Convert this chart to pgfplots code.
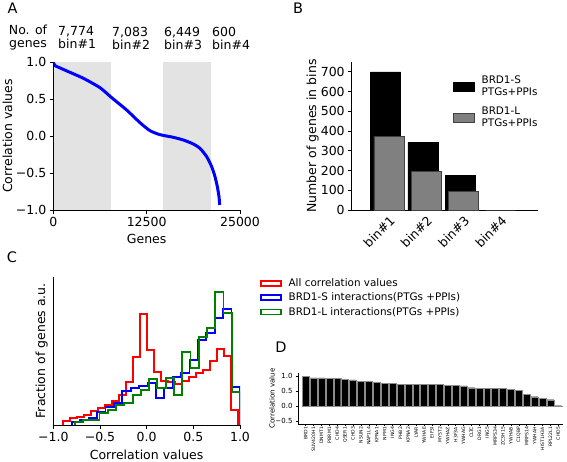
\documentclass[border=0pt]{standalone}
\usepackage{pgfplots}
\pgfplotsset{compat=1.18}
\usepackage{fontspec}
\setmainfont{DejaVu Sans}
\newcommand{\lab}{\fontsize{12.5}{13}\selectfont}
\newcommand{\leg}{\fontsize{10.4}{12}\selectfont}
\newcommand{\pan}{\fontsize{14.5}{16}\selectfont}
\pgfplotsset{
  mpl/.style={
    scale only axis,
    axis x line*=bottom, axis y line*=left,
    axis line style={-, line width=0.9pt, black},
    tick align=outside,
    major tick length=3.5pt,
    tick style={black, line width=0.8pt},
    scaled ticks=false,
    /pgf/number format/assume math mode=true,
    tick label style={font=\lab},
    label style={font=\lab},
  },
  bbox/.style={legend image code/.code={\draw[##1] (0pt,-4.6pt) rectangle (21.4pt,4.6pt);}},
  cbox/.style={legend image code/.code={\draw[##1] (0pt,-2.5pt) rectangle (20pt,2.5pt);}},
}
\begin{document}
\begin{tikzpicture}
\useasboundingbox (0pt,0pt) rectangle (567pt,461pt);
% ---------------- Panel A
\begin{axis}[mpl, at={(53.3pt,251pt)}, anchor=south west,
  width=186.7pt, height=148pt, axis on top,
  xmin=0, xmax=25000, ymin=-1, ymax=1,
  xtick={0,12500,25000}, xticklabels={0,12500,25000},
  ytick={-1,-0.5,0,0.5,1}, yticklabels={−1.0,−0.5,0.0,0.5,1.0},
  xlabel={Genes}, ylabel={Correlation values},
  xlabel style={at={(axis description cs:0.5,-0.196)}, anchor=center},
  ylabel style={at={(axis description cs:-0.245,0.5)}, anchor=center},
]
\addplot[fill=black!11, draw=none] coordinates {(0,-1) (0,1) (7774,1) (7774,-1)};
\addplot[fill=black!11, draw=none] coordinates {(14700,-1) (14700,1) (21150,1) (21150,-1)};
\addplot[color=blue, line width=3pt, smooth, tension=0.4] coordinates {
(0,0.99) (250,0.95) (900,0.92) (1786,0.88) (4018,0.78) (6250,0.653) (7813,0.518)
(9821,0.351) (11607,0.18) (12946,0.072) (14286,0.018) (16071,-0.018) (17410,-0.054)
(18750,-0.108) (19643,-0.167) (20536,-0.279) (21205,-0.414) (21652,-0.55)
(21964,-0.685) (22188,-0.82) (22277,-0.932)};
\end{axis}
\node[font=\pan] at (12.5pt,453pt) {A};
\node[font=\lab, align=center, inner sep=0pt] at (28pt,423pt) {No. of\\genes};
\node[font=\lab, align=left, anchor=west, inner sep=0pt] at (58pt,423pt) {7,774\\bin\#1};
\node[font=\lab, align=left, anchor=west, inner sep=0pt] at (112pt,423pt) {7,083\\bin\#2};
\node[font=\lab, align=left, anchor=west, inner sep=0pt] at (164pt,423pt) {6,449\\bin\#3};
\node[font=\lab, align=left, anchor=west, inner sep=0pt] at (212pt,423pt) {600\\bin\#4};
% ---------------- Panel B
\begin{axis}[mpl, at={(351.7pt,251pt)}, anchor=south west,
  width=186.3pt, height=148pt,
  xmin=0, xmax=5, ymin=0, ymax=750,
  ytick={0,100,...,700},
  xtick={1,2,3,4}, xticklabels={bin\#1,bin\#2,bin\#3,bin\#4},
  xticklabel style={rotate=45, anchor=north east, inner sep=1pt},
  xtick style={draw=none},
  ylabel={Number of genes in bins},
  ylabel style={at={(axis description cs:-0.21,0.5)}, anchor=center},
  legend cell align=left,
  legend style={at={(axis description cs:0.524,0.935)}, anchor=north west,
    draw=none, fill=none, font=\leg, cells={align=left}, row sep=6pt, column sep=5pt},
]
\addplot[ybar, bar width=0.805, bar shift=0pt, fill=black, draw=black, bbox] coordinates {(0.91,700) (1.91,342) (2.91,177) (3.91,0)};
\addplot[ybar, bar width=0.805, bar shift=0pt, fill=black!50, draw=black!75, line width=0.7pt, bbox] coordinates {(1,375) (2,194) (3,93) (4,0)};
\legend{{BRD1-S\\PTGs+PPIs},{BRD1-L\\PTGs+PPIs}}
\end{axis}
\node[font=\pan] at (298pt,453pt) {B};
% ---------------- Panel C
\begin{axis}[mpl, at={(53.3pt,36pt)}, anchor=south west,
  width=186.7pt, height=148.3pt,
  xmin=-1, xmax=1, ymin=0, ymax=148.3,
  xtick={-1,-0.5,0,0.5,1}, xticklabels={−1.0,−0.5,0.0,0.5,1.0},
  ytick=\empty,
  xlabel={Correlation values}, ylabel={Fraction of genes a.u.},
  xlabel style={at={(axis description cs:0.5,-0.198)}, anchor=center},
  ylabel style={at={(axis description cs:-0.062,0.5)}, anchor=center},
  legend cell align=left,
  legend style={at={(axis description cs:1.089,1.01)}, anchor=north west,
    draw=none, fill=none, font=\leg, row sep=3pt, column sep=6pt, nodes={inner sep=1pt}},
]
\addplot[color=red, line width=1.8pt, const plot mark left, cbox] coordinates {
(-0.9,0) (-0.9,4) (-0.825,7) (-0.75,8) (-0.675,10) (-0.6,14) (-0.525,17) (-0.45,20)
(-0.375,24) (-0.3,30) (-0.225,43) (-0.15,68) (-0.075,111) (0,75) (0.075,53) (0.15,44)
(0.225,43) (0.3,41) (0.375,44) (0.45,48) (0.525,52) (0.6,55) (0.675,64) (0.75,76)
(0.825,69) (0.9,15) (0.975,0)};
\addplot[color=blue, line width=1.8pt, const plot mark left, cbox] coordinates {
(-0.8,0) (-0.8,3) (-0.71,5) (-0.62,7) (-0.53,13) (-0.44,18) (-0.35,22) (-0.26,34)
(-0.17,37) (-0.08,39) (0.01,42) (0.10,27) (0.19,37) (0.28,48) (0.37,52) (0.46,65)
(0.55,85) (0.64,92) (0.73,107) (0.82,116) (0.91,38) (1.0,0)};
\addplot[color=black!50!green, line width=1.8pt, const plot mark left, cbox] coordinates {
(-0.77,0) (-0.77,3) (-0.6815,5) (-0.593,5) (-0.5045,12) (-0.416,15) (-0.3275,20)
(-0.239,22) (-0.1505,30) (-0.062,35) (0.0265,46) (0.115,37) (0.2035,47) (0.292,30)
(0.3805,73) (0.469,57) (0.5575,88) (0.646,97) (0.7345,133) (0.823,112) (0.9115,33) (1.0,0)};
\legend{All correlation values, BRD1-S interactions(PTGs +PPIs), BRD1-L interactions(PTGs +PPIs)}
\end{axis}
\node[font=\pan] at (12pt,203.5pt) {C};
% ---------------- Panel D
\begin{axis}[mpl, at={(298pt,37pt)}, anchor=south west,
  width=265pt, height=50.7pt,
  xmin=-0.97, xmax=32.6, ymin=-0.6, ymax=1.09,
  major tick length=2pt, tick style={line width=0.5pt},
  axis line style={line width=0.6pt},
  ytick={-0.5,0,0.5,1}, yticklabels={−0.5,0.0,0.5,1.0},
  yticklabel style={font=\fontsize{7}{8}\selectfont},
  xtick={0,...,32},
  xticklabels={BRD1,SUV420H1,DNMT1,PBRM1,CHD4,QSER1,CHD3,NSUN2,NAP1L4,KPNA1,NPM1,ING4,PHB2,KPNA2,LYAR,YWHAE,EIF3I,MYST2,YWHAZ,H3F3A,YWHAG,CLTC,DRG1,ING5,MRPS34,ZC3H15,YWHAB,C1QBP,MRPS14,YWHAH,HIST1H3A,RPL22L1,CHD5},
  xticklabel style={font=\fontsize{4.6}{5}\selectfont, rotate=90, anchor=east, inner sep=0.8pt},
  ylabel={Correlation value},
  ylabel style={font=\fontsize{7}{8}\selectfont, at={(axis description cs:-0.098,0.5)}, anchor=center},
]
\addplot[ybar, bar width=0.88, bar shift=0pt, fill=black, draw=black!45, line width=0.4pt] coordinates {
(0,1.00) (1,0.94) (2,0.94) (3,0.92) (4,0.92) (5,0.89) (6,0.87) (7,0.83) (8,0.83) (9,0.80)
(10,0.76) (11,0.76) (12,0.73) (13,0.73) (14,0.73) (15,0.73) (16,0.73) (17,0.72) (18,0.70)
(19,0.70) (20,0.67) (21,0.61) (22,0.59) (23,0.59) (24,0.59) (25,0.58) (26,0.56) (27,0.53)
(28,0.40) (29,0.31) (30,0.26) (31,0.21) (32,0.01)};
\end{axis}
\node[font=\pan] at (281pt,114pt) {D};
\end{tikzpicture}
\end{document}
